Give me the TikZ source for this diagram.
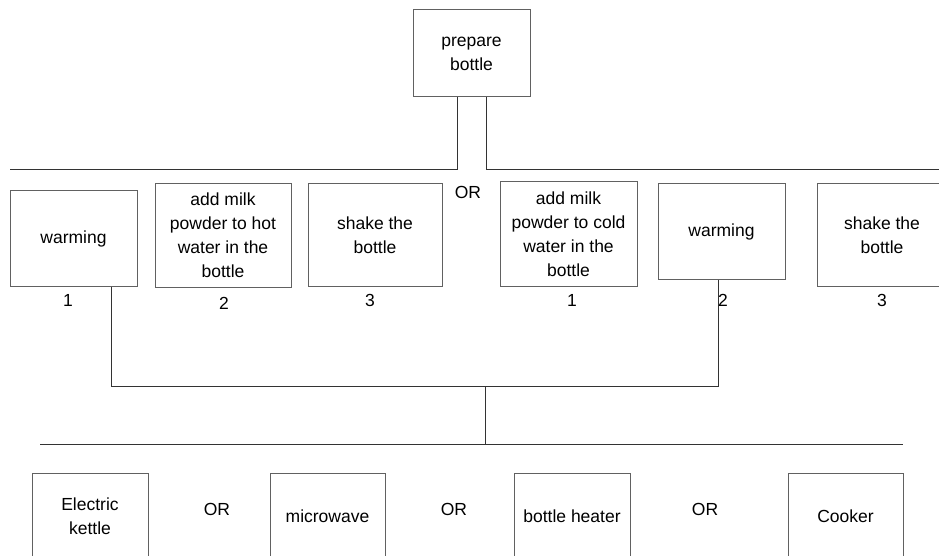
\documentclass[tikz,border=0pt]{standalone}
\usepackage{fontspec}
\setmainfont{Liberation Sans}
\begin{document}
\begin{tikzpicture}[x=1pt,y=-1pt,
  bx/.style={draw=black!62, line width=1pt, inner sep=0pt, align=center, fill=white},
  wire/.style={draw=black!80, line width=1pt},
  lbl/.style={inner sep=0pt},
  every node/.style={font=\fontsize{17.5}{24}\selectfont}]
\useasboundingbox (0,0) rectangle (939,556);
\clip (0,0) rectangle (939,556);
\fill[white] (0,0) rectangle (939,556);
% top
\node[bx, minimum width=117, minimum height=87] (prep) at (471.5,53.5) {prepare\\bottle};
% row 1
\node[bx, minimum width=127, minimum height=95] (w1) at (73.5,238.5) {warming};
\node[bx, minimum width=136, minimum height=103] (b2) at (223,235.5) {add milk\\powder to hot\\water in the\\bottle};
\node[bx, minimum width=134, minimum height=102] (b3) at (375,235) {shake the\\bottle};
\node[bx, minimum width=137, minimum height=104] (b4) at (568.5,234) {add milk\\powder to cold\\water in the\\bottle};
\node[bx, minimum width=127, minimum height=95] (w2) at (721.5,231.5) {warming};
\node[bx, minimum width=130, minimum height=102] (b6) at (882,235) {shake the\\bottle};
\node[lbl] (n1) at (68,300) {1};
\node[lbl] (n2) at (224,303) {2};
\node[lbl] (n3) at (370,300) {3};
\node[lbl] (n4) at (572,300) {1};
\node[lbl] (n6) at (882,300) {3};
\node[lbl] (or0) at (468,192) {OR};
% bottom row
\node[bx, minimum width=116, minimum height=86] (k) at (90,516) {Electric\\kettle};
\node[bx, minimum width=115, minimum height=86] (m) at (327.5,516) {microwave};
\node[bx, minimum width=116, minimum height=86] (h) at (572,516) {bottle heater};
\node[bx, minimum width=115, minimum height=86] (c) at (845.5,516) {Cooker};
\node[lbl] (or1) at (217,509) {OR};
\node[lbl] (or2) at (454,509) {OR};
\node[lbl] (or3) at (705,509) {OR};
% connectors
\coordinate (pl) at (457,170);
\coordinate (pr) at (486,170);
\coordinate (le) at (10,170);
\coordinate (re) at (939,170);
\draw[wire] (prep.south -| pl) -- (pl) -- (le);
\draw[wire] (prep.south -| pr) -- (pr) -- (re);
\coordinate (j1) at (111,386);
\coordinate (j2) at (718,386);
\coordinate (jm) at (485,386);
\coordinate (jb) at (485,444);
\draw[wire] (w1.south -| j1) -- (j1) -- (j2) -- (w2.south -| j2);
\draw[wire] (jm) -- (jb);
\coordinate (bl) at (40,444);
\coordinate (br) at (903,444);
\draw[wire] (bl) -- (br);
\node[lbl] (n5) at (723,300) {2};
\end{tikzpicture}
\end{document}
